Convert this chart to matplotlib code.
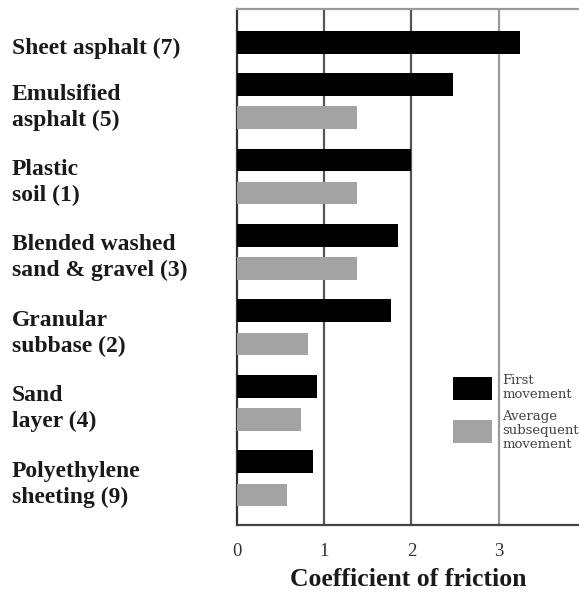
import matplotlib
matplotlib.use("Agg")
import matplotlib.pyplot as plt
from matplotlib.patches import Patch
import numpy as np

categories = ["Sheet asphalt (7)", "Emulsified\nasphalt (5)", "Plastic\nsoil (1)",
              "Blended washed\nsand & gravel (3)", "Granular\nsubbase (2)",
              "Sand\nlayer (4)", "Polyethylene\nsheeting (9)"]
first_movement = [3.24, 2.48, 2.0, 1.85, 1.76, 0.92, 0.87]
subsequent_movement = [None, 1.37, 1.37, 1.37, 0.81, 0.73, 0.57]
xticks = [0, 1, 2, 3]
xlabel = "Coefficient of friction"
legend_labels = ["First\nmovement", "Average\nsubsequent\nmovement"]

black = "#000000"
gray = "#a3a3a3"

fig = plt.figure(figsize=(5.79, 5.95), dpi=100)
ax = fig.add_axes([237/579, 70/595, 1 - 237/579, (525-9)/595])

centers = np.arange(len(categories), dtype=float)
centers[0] = 0.44  # single-bar group sits closer to the top
off = 0.22
h = 0.30
for c, f, s in zip(centers, first_movement, subsequent_movement):
    ax.barh(c - off, f, height=h, color=black, zorder=3)
    if s is not None:
        ax.barh(c + off, s, height=h, color=gray, zorder=3)

ax.set_xlim(0, 3.92)
ax.set_ylim(6.62, -0.22)

for x, col in [(1, "#555555"), (2, "#555555"), (3, "#9a9a9a")]:
    ax.axvline(x, color=col, lw=1.6, zorder=1)

ax.set_yticks([])
ax.set_xticks(xticks)
ax.set_xticklabels([str(t) for t in xticks], fontfamily="Liberation Serif", fontsize=13.5,
                   color="#333333")
ax.tick_params(axis="x", length=0, pad=13)
ax.set_xlabel(xlabel, fontfamily="Liberation Serif", fontweight="bold", fontsize=18.5,
              labelpad=6, color="#1a1a1a")

ax.spines["right"].set_visible(False)
ax.spines["left"].set_color("#333333")
ax.spines["left"].set_linewidth(1.6)
ax.spines["bottom"].set_color("#444444")
ax.spines["bottom"].set_linewidth(1.6)
ax.spines["top"].set_color("#9a9a9a")
ax.spines["top"].set_linewidth(1.6)

label_y = list(centers)
label_y[0] = centers[0] - off
for c, lab in zip(label_y, categories):
    ax.annotate(lab, xy=(0, c), xycoords=("figure fraction", "data"),
                xytext=(12, -6), textcoords="offset pixels",
                ha="left", va="center", fontfamily="Liberation Serif",
                fontweight="bold", fontsize=17, linespacing=1.3, color="#1a1a1a")

handles = [Patch(facecolor=black, edgecolor="none"), Patch(facecolor=gray, edgecolor="none")]
leg = ax.legend(handles, legend_labels, loc="upper left",
                bbox_to_anchor=(450/579, (595-371)/595), bbox_transform=fig.transFigure,
                frameon=False, prop={"family": "DejaVu Serif", "size": 9.5},
                handlelength=3.0, handleheight=2.3, handletextpad=0.75,
                labelspacing=0.72, borderpad=0.2, borderaxespad=0)
for t in leg.get_texts():
    t.set_color("#444444")
    t.set_linespacing(1.1)

fig.savefig("out.png", dpi=100, facecolor="white")
